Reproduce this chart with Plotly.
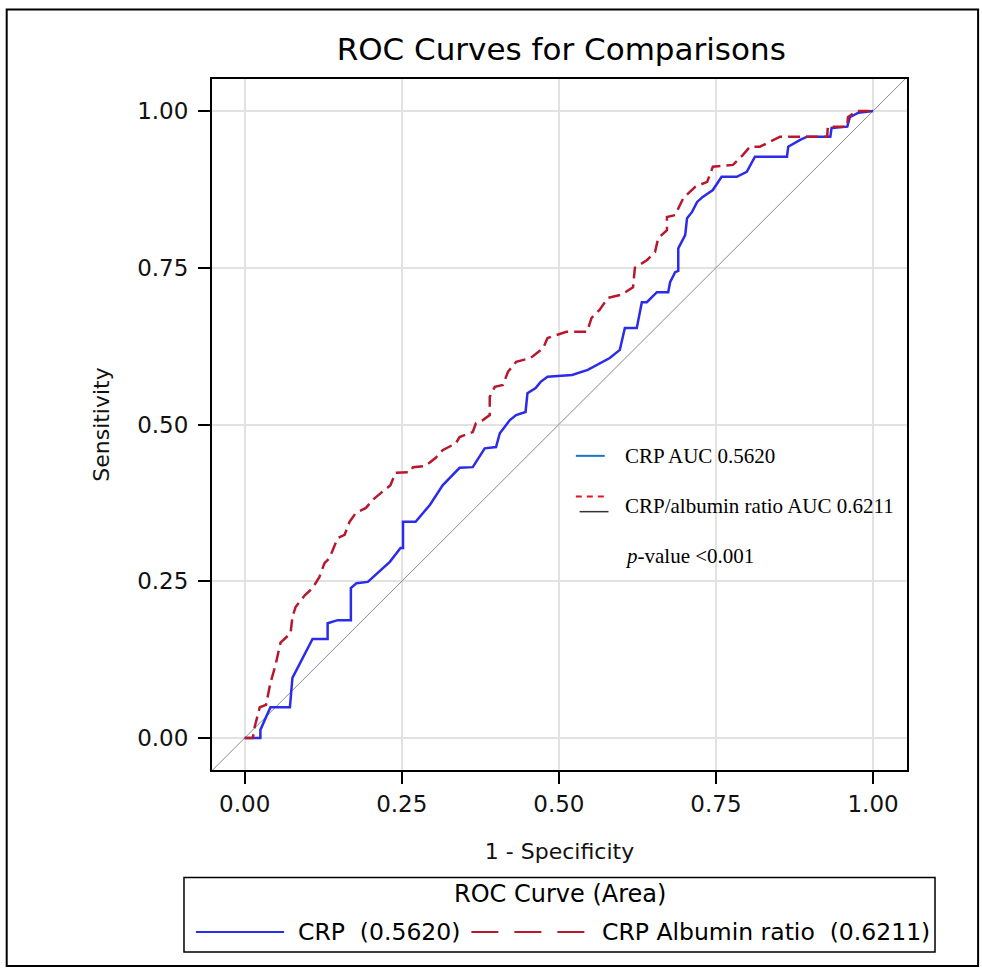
import plotly.graph_objects as go

# ---- data ----
crp_fpr = [0, 0.025, 0.025, 0.041, 0.072, 0.076, 0.108, 0.132, 0.132, 0.148, 0.169, 0.169, 0.178, 0.196,
           0.231, 0.248, 0.252, 0.252, 0.272, 0.295, 0.315, 0.342, 0.363, 0.382, 0.400, 0.406, 0.422, 0.432,
           0.447, 0.450, 0.463, 0.471, 0.482, 0.521, 0.546, 0.565, 0.581, 0.597, 0.605, 0.624, 0.632, 0.640,
           0.656, 0.674, 0.677, 0.685, 0.690, 0.690, 0.701, 0.704, 0.712, 0.720, 0.729, 0.745, 0.756, 0.759,
           0.783, 0.799, 0.812, 0.863, 0.865, 0.884, 0.895, 0.932, 0.934, 0.959, 0.963, 0.976, 1.0]
crp_tpr = [0, 0, 0.013, 0.049, 0.049, 0.096, 0.158, 0.158, 0.183, 0.188, 0.188, 0.239, 0.247, 0.249,
           0.281, 0.303, 0.303, 0.345, 0.345, 0.372, 0.403, 0.431, 0.432, 0.462, 0.464, 0.486, 0.507, 0.515,
           0.520, 0.550, 0.558, 0.568, 0.576, 0.579, 0.587, 0.598, 0.606, 0.619, 0.654, 0.654, 0.695, 0.695,
           0.711, 0.711, 0.727, 0.743, 0.745, 0.781, 0.802, 0.829, 0.839, 0.855, 0.863, 0.874, 0.890, 0.895,
           0.895, 0.903, 0.927, 0.927, 0.943, 0.954, 0.959, 0.959, 0.973, 0.975, 0.990, 0.997, 1.0]

car_fpr = [0, 0.013, 0.016, 0.024, 0.034, 0.041, 0.049, 0.057, 0.073, 0.076, 0.081, 0.096, 0.108, 0.119,
           0.127, 0.135, 0.148, 0.159, 0.167, 0.177, 0.193, 0.204, 0.217, 0.232, 0.240, 0.263, 0.268, 0.288,
           0.304, 0.315, 0.336, 0.342, 0.363, 0.368, 0.379, 0.390, 0.390, 0.398, 0.411, 0.419, 0.432, 0.455,
           0.475, 0.482, 0.512, 0.545, 0.552, 0.565, 0.578, 0.600, 0.618, 0.621, 0.640, 0.653, 0.658, 0.672,
           0.672, 0.685, 0.698, 0.717, 0.736, 0.745, 0.777, 0.793, 0.804, 0.820, 0.836, 0.852, 0.927, 0.928,
           0.959, 0.960, 0.974, 1.0]
car_tpr = [0, 0, 0.018, 0.049, 0.053, 0.088, 0.116, 0.152, 0.167, 0.193, 0.209, 0.228, 0.239, 0.257,
           0.279, 0.287, 0.319, 0.324, 0.345, 0.359, 0.367, 0.380, 0.391, 0.403, 0.423, 0.424, 0.432, 0.434,
           0.447, 0.459, 0.470, 0.480, 0.488, 0.502, 0.507, 0.515, 0.544, 0.560, 0.563, 0.584, 0.600, 0.606,
           0.622, 0.638, 0.648, 0.648, 0.670, 0.683, 0.702, 0.707, 0.719, 0.750, 0.762, 0.775, 0.797, 0.810,
           0.831, 0.834, 0.861, 0.879, 0.887, 0.911, 0.914, 0.930, 0.943, 0.943, 0.951, 0.959, 0.959, 0.975,
           0.975, 0.990, 1.0, 1.0]

ref_line = [-0.06, 1.06]

series_names = ["CRP", "CRP Albumin ratio"]
series_auc = ["0.5620", "0.6211"]
inset_lines = ["CRP AUC 0.5620", "CRP/albumin ratio AUC 0.6211", "<i>p</i>-value <0.001"]
tick_vals = [0, 0.25, 0.5, 0.75, 1.0]
tick_text = ["0.00", "0.25", "0.50", "0.75", "1.00"]

BLUE = "#2b2bea"
RED = "#b8182d"
FONT = "DejaVu Sans"

fig = go.Figure()
fig.add_trace(go.Scatter(x=ref_line, y=ref_line, mode="lines",
                         line=dict(color="#8a8a8a", width=1), showlegend=False, hoverinfo="skip"))
fig.add_trace(go.Scatter(x=crp_fpr, y=crp_tpr, mode="lines", name=series_names[0],
                         line=dict(color=BLUE, width=2.5), showlegend=False))
fig.add_trace(go.Scatter(x=car_fpr, y=car_tpr, mode="lines", name=series_names[1],
                         line=dict(color=RED, width=2.5, dash="12px,6px"), showlegend=False))

# inset text legend (data coordinates)
fig.add_shape(type="line", x0=0.527, x1=0.573, y0=0.450, y1=0.450, xref="x", yref="y",
              line=dict(color="#1a74c8", width=2))
fig.add_shape(type="line", x0=0.527, x1=0.573, y0=0.385, y1=0.385, xref="x", yref="y",
              line=dict(color="#e0141e", width=2, dash="6px,5px"))
fig.add_shape(type="line", x0=0.533, x1=0.579, y0=0.361, y1=0.361, xref="x", yref="y",
              line=dict(color="#333333", width=1.5))
for txt, yy in zip(inset_lines, [0.450, 0.370, 0.290]):
    fig.add_annotation(x=0.602, y=yy, xref="x", yref="y", text=txt, showarrow=False,
                       xanchor="left", yanchor="middle",
                       font=dict(family="Liberation Serif", size=21, color="black"))

# outer frame
fig.add_shape(type="rect", xref="paper", yref="paper", x0=-0.2954, x1=1.1023, y0=-0.2835, y1=1.1007,
              line=dict(color="black", width=2), layer="below")

# bottom legend box (manual)
fig.add_shape(type="rect", xref="paper", yref="paper", x0=-0.0403, x1=1.0403, y0=-0.2633, y1=-0.1554,
              line=dict(color="black", width=1.5))
fig.add_annotation(x=0.5, y=-0.1799, xref="paper", yref="paper", text="ROC Curve (Area)",
                   showarrow=False, xanchor="center", yanchor="middle",
                   font=dict(family=FONT, size=24, color="black"))
fig.add_shape(type="line", xref="paper", yref="paper", x0=-0.0231, x1=0.1037, y0=-0.2345, y1=-0.2345,
              line=dict(color=BLUE, width=2))
fig.add_shape(type="line", xref="paper", yref="paper", x0=0.3732, x1=0.536, y0=-0.2345, y1=-0.2345,
              line=dict(color=RED, width=2, dash="27px,16px"))
fig.add_annotation(x=0.121, y=-0.2345, xref="paper", yref="paper",
                   text=f"{series_names[0]}  ({series_auc[0]})", showarrow=False,
                   xanchor="left", yanchor="middle", font=dict(family=FONT, size=23.5, color="black"))
fig.add_annotation(x=0.5576, y=-0.2345, xref="paper", yref="paper",
                   text=f"{series_names[1]}  ({series_auc[1]})", showarrow=False,
                   xanchor="left", yanchor="middle", font=dict(family=FONT, size=23.5, color="black"))

axis_common = dict(
    tickvals=tick_vals, ticktext=tick_text, ticks="outside", ticklen=12, tickwidth=2, tickcolor="black",
    showline=True, linecolor="black", linewidth=2, mirror=True,
    showgrid=True, gridcolor="#e2e2e2", gridwidth=2, zeroline=False,
    tickfont=dict(family=FONT, size=23, color="#111111"),
)
fig.update_xaxes(range=[-0.052, 1.054], title=dict(text="1 - Specificity", standoff=28,
                 font=dict(family=FONT, size=22, color="#111111")), ticklabelstandoff=0, **axis_common)
fig.update_yaxes(range=[-0.051, 1.051], title=dict(text="Sensitivity", standoff=21,
                 font=dict(family=FONT, size=22, color="#111111")), ticklabelstandoff=5, **axis_common)

fig.update_layout(
    width=982, height=971,
    margin=dict(l=212, r=75, t=79, b=201),
    paper_bgcolor="white", plot_bgcolor="white",
    title=dict(text="ROC Curves for Comparisons", x=0.5715, xanchor="center", y=0.949, yanchor="middle",
               font=dict(family=FONT, size=31, color="black")),
    showlegend=False,
)

fig.write_html("out.html", config={"displayModeBar": False},
               post_script="document.body.style.margin='0px';document.body.style.overflow='hidden';")
